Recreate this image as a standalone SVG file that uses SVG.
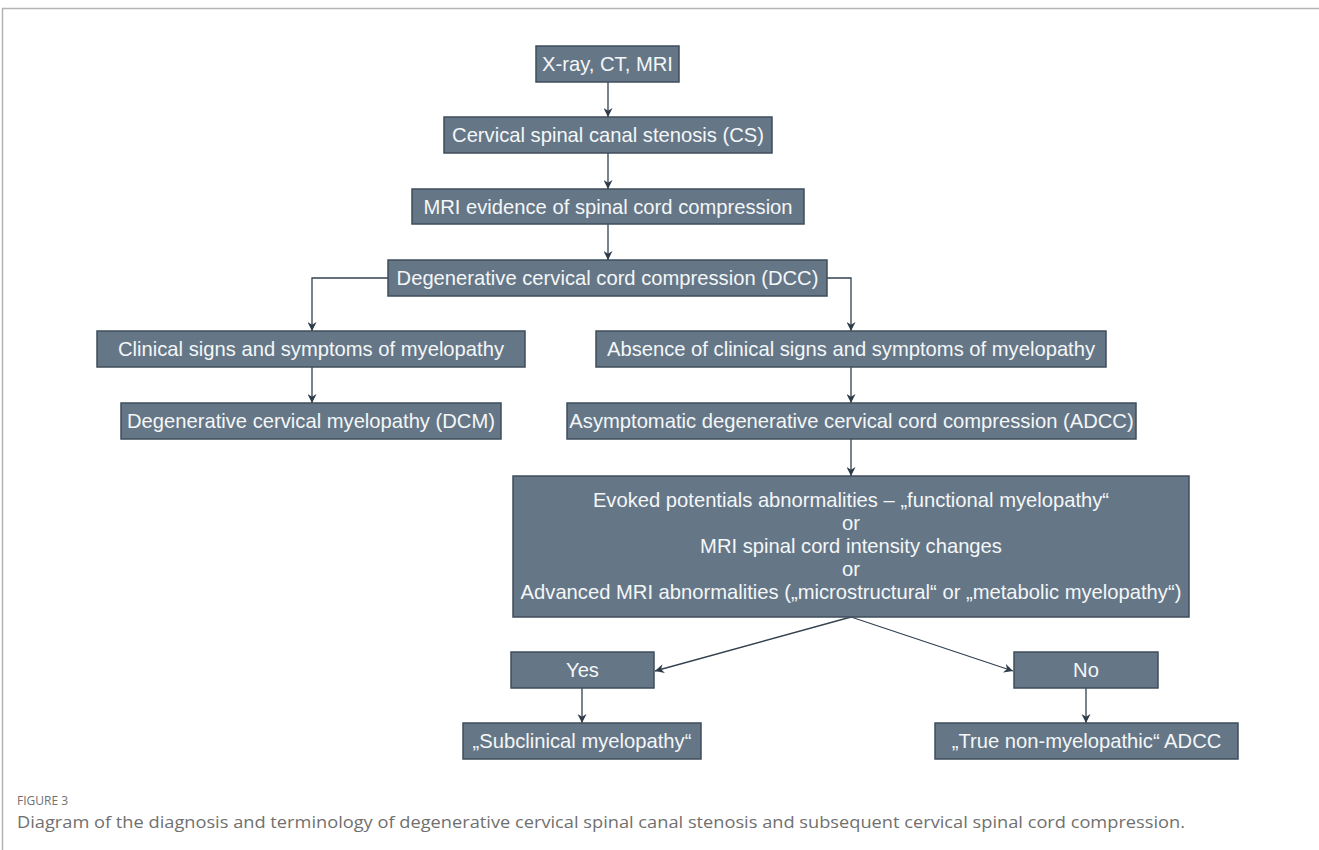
<svg xmlns="http://www.w3.org/2000/svg" width="1319" height="850" viewBox="0 0 1319 850">
<style>
.box{fill:#657687;stroke:#3f4d5b;stroke-width:1.5}
.t{font-family:"Liberation Sans",Arial,sans-serif;font-size:20.2px;fill:#f4f6f8;text-anchor:middle;dominant-baseline:central}
.c{fill:none;stroke:#34414f;stroke-width:1.3}
.cap{font-family:"Open Sans","Noto Sans",sans-serif;fill:#707070}
</style>
<defs>
<marker id="ah" viewBox="0 0 10 10" refX="10" refY="5" markerWidth="9" markerHeight="9" markerUnits="userSpaceOnUse" orient="auto">
<path d="M0,0 L10,5 L0,10 L3,5 z" fill="#2e3b48"/>
</marker>
</defs>
<rect width="1319" height="850" fill="#fff"/>
<path d="M2.5,850 V8.5 H1319" fill="none" stroke="#b4b4b4" stroke-width="1.5"/>
<g id="connectors">
<path class="c" d="M608,82 V117" marker-end="url(#ah)"/>
<path class="c" d="M608,153 V189" marker-end="url(#ah)"/>
<path class="c" d="M608,224 V260" marker-end="url(#ah)"/>
<path class="c" d="M388,278 H312 V331" marker-end="url(#ah)"/>
<path class="c" d="M827,278 H851 V331" marker-end="url(#ah)"/>
<path class="c" d="M312,367 V403" marker-end="url(#ah)"/>
<path class="c" d="M851,367 V403" marker-end="url(#ah)"/>
<path class="c" d="M851,439 V476" marker-end="url(#ah)"/>
<path class="c" d="M851,617 L655,671" marker-end="url(#ah)"/>
<path class="c" d="M851,617 L1013,671" marker-end="url(#ah)"/>
<path class="c" d="M582,688 V723" marker-end="url(#ah)"/>
<path class="c" d="M1086,688 V723" marker-end="url(#ah)"/>
</g>
<g id="n1"><rect class="box" x="536" y="46" width="143" height="36"/><text class="t" x="607.5" y="64">X-ray, CT, MRI</text></g>
<g id="n2"><rect class="box" x="444" y="117" width="328" height="36"/><text class="t" x="608" y="135">Cervical spinal canal stenosis (CS)</text></g>
<g id="n3"><rect class="box" x="412" y="189" width="392" height="35"/><text class="t" x="608" y="206.5">MRI evidence of spinal cord compression</text></g>
<g id="n4"><rect class="box" x="388" y="260" width="439" height="36"/><text class="t" x="607.5" y="278">Degenerative cervical cord compression (DCC)</text></g>
<g id="n5"><rect class="box" x="97" y="331" width="428" height="36"/><text class="t" x="311" y="349">Clinical signs and symptoms of myelopathy</text></g>
<g id="n6"><rect class="box" x="596" y="331" width="510" height="36"/><text class="t" x="851" y="349">Absence of clinical signs and symptoms of myelopathy</text></g>
<g id="n7"><rect class="box" x="121" y="403" width="380" height="36"/><text class="t" x="311" y="421">Degenerative cervical myelopathy (DCM)</text></g>
<g id="n8"><rect class="box" x="567" y="403" width="569" height="36"/><text class="t" x="851.5" y="421">Asymptomatic degenerative cervical cord compression (ADCC)</text></g>
<g id="n9"><rect class="box" x="513" y="476" width="676" height="141"/>
<text class="t" x="851" y="500">Evoked potentials abnormalities – „functional myelopathy“</text>
<text class="t" x="851" y="523">or</text>
<text class="t" x="851" y="546">MRI spinal cord intensity changes</text>
<text class="t" x="851" y="569">or</text>
<text class="t" x="851" y="592">Advanced MRI abnormalities („microstructural“ or „metabolic myelopathy“)</text>
</g>
<g id="n10"><rect class="box" x="511" y="652" width="143" height="36"/><text class="t" x="582.5" y="670">Yes</text></g>
<g id="n11"><rect class="box" x="1014" y="652" width="144" height="36"/><text class="t" x="1086" y="670">No</text></g>
<g id="n12"><rect class="box" x="463" y="723" width="238" height="36"/><text class="t" x="582" y="741">„Subclinical myelopathy“</text></g>
<g id="n13"><rect class="box" x="935" y="723" width="303" height="36"/><text class="t" x="1086.5" y="741">„True non-myelopathic“ ADCC</text></g>
<text class="cap" x="17" y="805" font-size="12">FIGURE 3</text>
<text class="cap" x="17" y="828" font-size="15.5" textLength="1168" lengthAdjust="spacingAndGlyphs">Diagram of the diagnosis and terminology of degenerative cervical spinal canal stenosis and subsequent cervical spinal cord compression.</text>
</svg>
